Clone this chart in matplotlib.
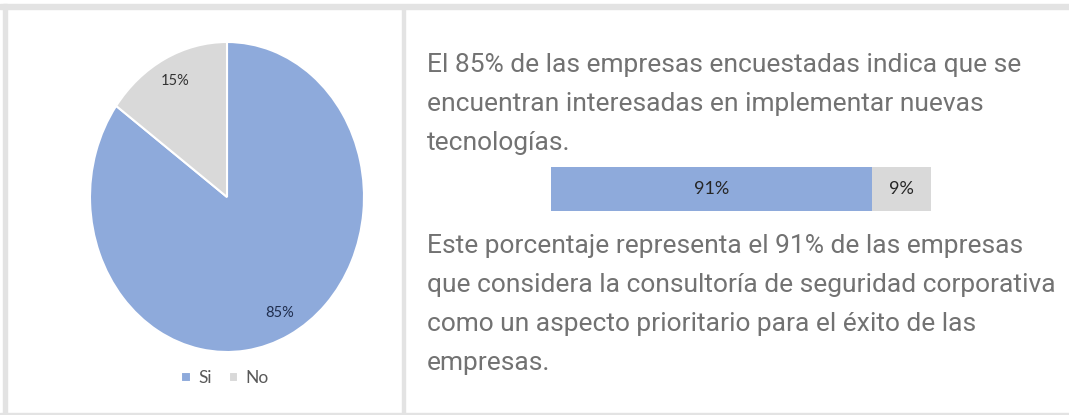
import matplotlib
matplotlib.use("Agg")
import matplotlib.pyplot as plt
from matplotlib.patches import Rectangle

# ---- data ----
pie_labels = ["Si", "No"]
pie_values = [85, 15]
pie_colors = ["#8eaadb", "#d9d9d9"]

bar_values = [84.5, 15.5]          # segment widths as drawn in the picture
bar_labels = ["91%", "9%"]
bar_colors = ["#8eaadb", "#d9d9d9"]

para1 = ["El 85% de las empresas encuestadas indica que se",
         "encuentran interesadas en implementar nuevas",
         "tecnologías."]
para2 = ["Este porcentaje representa el 91% de las empresas",
         "que considera la consultoría de seguridad corporativa",
         "como un aspecto prioritario para el éxito de las",
         "empresas."]

W, H = 1069, 415
fig = plt.figure(figsize=(W / 100, H / 100), dpi=100)
fig.patch.set_facecolor("white")

body_font = "Roboto"
small_font = "Lato"

def fx(x):
    return x / W

def fy(y):
    return 1 - y / H

border = "#e3e3e3"
# frame bands
fig.patches.append(Rectangle((0, fy(9)), 1, 5 / H, transform=fig.transFigure, color=border, zorder=0))
fig.patches.append(Rectangle((fx(3), 0), 4 / W, fy(4), transform=fig.transFigure, color=border, zorder=0))
fig.patches.append(Rectangle((fx(402), 0), 3 / W, fy(9), transform=fig.transFigure, color=border, zorder=0))
fig.patches.append(Rectangle((0, 0), 1, 2 / H, transform=fig.transFigure, color=border, zorder=0))

# ---- pie ----
cx, cy, rx, ry = 227, 197, 137, 155
ax = fig.add_axes([fx(cx - rx), fy(cy + ry), 2 * rx / W, 2 * ry / H])
wedges, texts, autotexts = ax.pie(
    pie_values, colors=pie_colors, startangle=90, counterclock=False,
    autopct=lambda p: f"{p:.0f}%", pctdistance=0.84,
    wedgeprops=dict(edgecolor="white", linewidth=1.5),
    textprops=dict(fontsize=10.5, family=small_font))
autotexts[0].set_color("#1f2d4d")
autotexts[1].set_color("#333333")
ax.set_aspect("auto")
ax.set_xlim(-1, 1)
ax.set_ylim(-1, 1)
ax.axis("off")

leg = fig.legend(wedges, pie_labels, loc="center", bbox_to_anchor=(fx(225), fy(378)),
                 ncol=2, frameon=False, handlelength=0.55, handleheight=0.55,
                 handletextpad=0.4, columnspacing=1.0,
                 prop=dict(family=small_font, size=12.5))
for t in leg.get_texts():
    t.set_color("#595959")

# ---- bar ----
bx0, bx1, by0, by1 = 551, 931, 167, 211
bax = fig.add_axes([fx(bx0), fy(by1), (bx1 - bx0) / W, (by1 - by0) / H])
left = 0
for v, c, lab in zip(bar_values, bar_colors, bar_labels):
    bax.barh(0, v, left=left, color=c, height=1.0)
    bax.text(left + v / 2, 0, lab, ha="center", va="center", fontsize=13,
             color="#262626", family=small_font)
    left += v
bax.set_xlim(0, sum(bar_values))
bax.set_ylim(-0.5, 0.5)
bax.axis("off")

# ---- text ----
txt_color = "#727272"
renderer = fig.canvas.get_renderer()

def width_at(s, size):
    p = fig.text(0, 0, s, fontsize=size, family=body_font)
    w = p.get_window_extent(renderer).width
    p.remove()
    return w

body_size = min(22 * 608 / width_at(para1[0], 22),
                22 * 628 / width_at(para2[1], 22))

for i, line in enumerate(para1):
    fig.text(fx(427), fy(72 + 39 * i), line, ha="left", va="baseline",
             fontsize=body_size, color=txt_color, family=body_font)
for i, line in enumerate(para2):
    fig.text(fx(427), fy(253 + 39 * i), line, ha="left", va="baseline",
             fontsize=body_size, color=txt_color, family=body_font)

fig.savefig("out.png", dpi=100, facecolor="white")
